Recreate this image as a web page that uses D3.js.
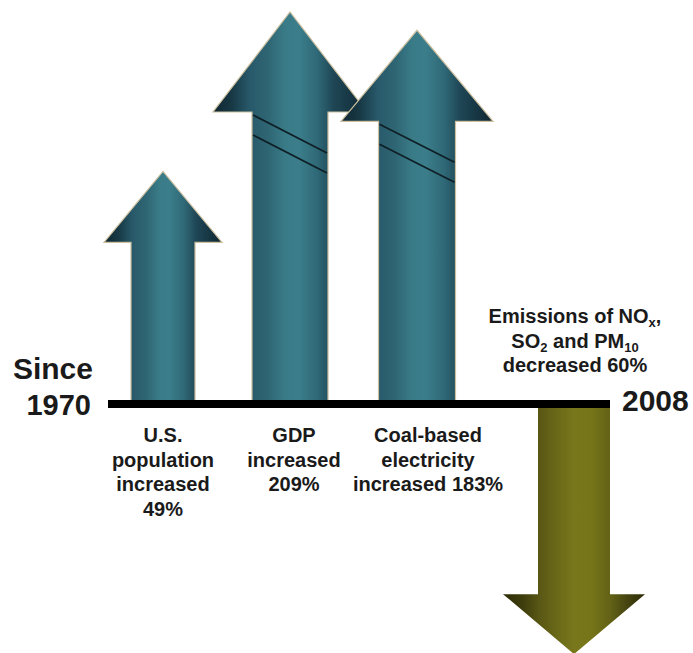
<!DOCTYPE html>
<html>
<head>
<meta charset="utf-8">
<script src="https://cdn.jsdelivr.net/npm/d3@7"></script>
<style>
  html, body { margin: 0; padding: 0; background: #fff; }
  svg { display: block; }
  text { font-family: "Liberation Sans", Arial, Helvetica, sans-serif; font-weight: bold; fill: #1a1a1a; }
</style>
</head>
<body>
<svg id="chart" width="693" height="653"></svg>
<script>
// ---- data ----
const categories = ["U.S. population", "GDP", "Coal-based electricity", "Emissions"];
const changePct = [49, 209, 183, -60];
const labelLines = [
  ["U.S.", "population", "increased", "49%"],
  ["GDP", "increased", "209%"],
  ["Coal-based", "electricity", "increased 183%"]
];
const startYear = "1970";
const endYear = "2008";

// ---- style (not data) ----
const arrowStyle = [
  { shaft: 64, headHalf: 59, headH: 71 },
  { shaft: 76, headHalf: 77, headH: 100 },
  { shaft: 77, headHalf: 76, headH: 91 },
  { shaft: 72, headHalf: 71, headH: 60 }
];

const svg = d3.select("#chart");
const y0 = 404;              // baseline (0 %) position
const timeline = [108, 610]; // 1970 -> 2008

// length scale: compressed (power) scale, arrows with breaks for large values
const len = d3.scalePow().exponent(0.36).domain([0, 209]).range([0, 392]);
const y = v => v >= 0 ? y0 - len(v) : y0 + len(-v);

const upCats = categories.slice(0, 3);
const xUp = d3.scalePoint().domain(upCats).range([163, 417]);
const xOf = (c, i) => i < 3 ? xUp(c) : timeline[1] - arrowStyle[i].shaft / 2;

// gradients
const defs = svg.append("defs");
function grad(id, stops) {
  const g = defs.append("linearGradient").attr("id", id)
    .attr("x1", 0).attr("x2", 1).attr("y1", 0).attr("y2", 0);
  stops.forEach(([o, c]) => g.append("stop").attr("offset", o).attr("stop-color", c));
}
grad("teal", [[0, "#0f2732"], [0.12, "#173844"], [0.24, "#28596a"], [0.36, "#2f6674"], [0.47, "#3a7b88"], [0.56, "#3b7d8a"], [0.68, "#2f6876"], [0.78, "#1f4756"], [0.9, "#163542"], [1, "#0f2631"]]);
grad("olive", [[0, "#2c2c07"], [0.14, "#3e3d0d"], [0.25, "#585614"], [0.38, "#6a6918"], [0.5, "#78771c"], [0.62, "#767519"], [0.76, "#626116"], [0.88, "#444310"], [1, "#2c2c07"]]);

function arrowPath(cx, tip, st) {
  const dir = tip < y0 ? 1 : -1;
  const hb = tip + dir * st.headH;
  const s = st.shaft / 2, h = st.headHalf;
  return `M${cx - s},${y0}L${cx - s},${hb}L${cx - h},${hb}L${cx},${tip}L${cx + h},${hb}L${cx + s},${hb}L${cx + s},${y0}Z`;
}

const arrows = svg.append("g");
changePct.forEach((v, i) => {
  const c = categories[i];
  const cx = xOf(c, i);
  const st = arrowStyle[i];
  const tip = y(v);
  arrows.append("path")
    .attr("d", arrowPath(cx, tip, st))
    .attr("fill", v >= 0 ? "url(#teal)" : "url(#olive)")
    .attr("stroke", v >= 0 ? "#cbbf9f" : "none")
    .attr("stroke-width", 1.2);
  // break marks for compressed (large) values
  if (v > 100) {
    const hb = tip + st.headH;
    const l = cx - st.shaft / 2 + 1, r = cx + st.shaft / 2 - 1;
    [[3, 41], [23, 61]].forEach(([a, b]) => {
      arrows.append("line")
        .attr("x1", l).attr("y1", hb + a).attr("x2", r).attr("y2", hb + b)
        .attr("stroke", "#0e1f26").attr("stroke-width", 1.6);
    });
  }
});

// baseline
svg.append("rect")
  .attr("x", timeline[0]).attr("y", y0 - 4)
  .attr("width", timeline[1] - timeline[0]).attr("height", 8)
  .attr("fill", "#000");

// year labels
svg.append("text").attr("x", 93).attr("y", 379).attr("text-anchor", "end")
  .style("font-size", "30px").text("Since");
svg.append("text").attr("x", 91).attr("y", 415).attr("text-anchor", "end")
  .style("font-size", "29px").text(startYear);
svg.append("text").attr("x", 622).attr("y", 411).attr("text-anchor", "start")
  .style("font-size", "30px").text(endYear);

// category labels below the baseline
labelLines.forEach((lines, i) => {
  const cx = xUp(upCats[i]) + [0, 4, 11][i];
  const t = svg.append("text").attr("text-anchor", "middle").style("font-size", "20px");
  lines.forEach((ln, j) => {
    t.append("tspan").attr("x", cx).attr("y", 442 + j * 24.5).text(ln);
  });
});

// emissions label (with subscripts)
const ex = xOf(categories[3], 3);
const emis = [
  [["Emissions of NO", 0], ["x", 1], [",", 0]],
  [["SO", 0], ["2", 1], [" and PM", 0], ["10", 1]],
  [["decreased " + Math.abs(changePct[3]) + "%", 0]]
];
emis.forEach((segs, j) => {
  const t = svg.append("text").attr("text-anchor", "middle")
    .attr("x", ex + 1).attr("y", 323 + j * 24.5).style("font-size", "20px");
  let shifted = false;
  segs.forEach(([s, sub]) => {
    const ts = t.append("tspan").text(s);
    if (sub && !shifted) { ts.attr("dy", 4).style("font-size", "13px"); shifted = true; }
    else if (sub) { ts.style("font-size", "13px"); }
    else if (shifted) { ts.attr("dy", -4); shifted = false; }
  });
});
</script>
</body>
</html>
